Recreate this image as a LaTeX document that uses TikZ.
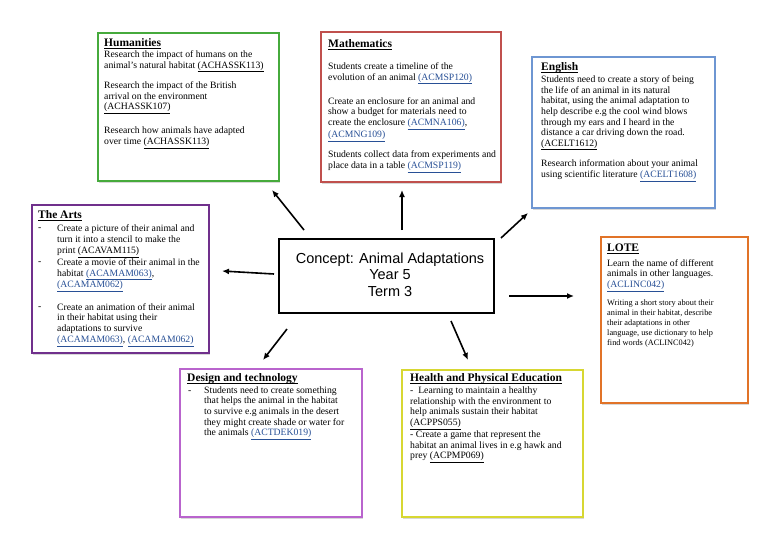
\documentclass[tikz,border=0pt]{standalone}
\usepackage{fontspec}
\setmainfont{Liberation Serif}
\newfontfamily\arialf{Liberation Sans}
\usetikzlibrary{shadows,arrows.meta}
\definecolor{humG}{RGB}{70,170,60}
\definecolor{mathR}{RGB}{192,80,77}
\definecolor{engB}{RGB}{110,150,210}
\definecolor{artsP}{RGB}{112,48,140}
\definecolor{loteO}{RGB}{225,115,40}
\definecolor{desP}{RGB}{185,100,205}
\definecolor{heaY}{RGB}{215,215,50}
\definecolor{linkblue}{RGB}{40,80,150}
\newcommand\lnkk[1]{\underline{#1}}
\newcommand\lnkb[1]{\textcolor{linkblue}{\underline{#1}}}
\newcommand\hul[1]{\setbox0\hbox{#1}\rlap{\rule[-2pt]{\wd0}{0.7pt}}\box0}
\tikzset{
  box/.style={draw=#1, line width=1.8pt, fill=white, anchor=north west, inner sep=0pt, outer sep=0pt,
    drop shadow={shadow xshift=1.2pt, shadow yshift=-1.6pt, opacity=0.3}},
  head/.style={anchor=north west, inner sep=0pt, align=left, text depth=0pt, font=\fontsize{11.5}{13}\selectfont\bfseries},
  body/.style={anchor=north west, inner sep=0pt, align=left, font=\fontsize{9.7}{#1}\selectfont},
  body/.default=10.7,
  bulletdash/.style={anchor=base west, inner sep=0pt, font=\fontsize{9.7}{10.7}\selectfont},
  arr/.style={-{Latex[length=7pt,width=6pt]}, line width=1.6pt},
}
\begin{document}
\begin{tikzpicture}[x=1pt,y=-1pt]
\useasboundingbox (0,0) rectangle (768,543);
\fill[white] (0,0) rectangle (768,543);

% boxes
\node[box=humG, minimum width=181pt, minimum height=148pt] (hum) at (98,33) {};
\node[box=mathR, minimum width=180pt, minimum height=150pt] (math) at (321,32) {};
\node[box=engB, minimum width=183pt, minimum height=151pt] (eng) at (532,57) {};
\node[box=artsP, minimum width=177pt, minimum height=148pt] (arts) at (32,205) {};
\node[box=loteO, minimum width=147pt, minimum height=166pt] (lote) at (601,237) {};
\node[box=desP, minimum width=182pt, minimum height=148pt] (des) at (180,369) {};
\node[box=heaY, minimum width=181pt, minimum height=147pt] (hea) at (402,370) {};
\node[draw=black, line width=1.5pt, fill=white, anchor=north west, inner sep=0pt,
  minimum width=215pt, minimum height=74pt] (concept) at (278,238) {};
\node[anchor=north, inner sep=0pt, align=center, font=\arialf\fontsize{14.5}{16.5}\selectfont]
  (conceptText) at (390,252.6) {Concept: Animal Adaptations\\Year 5\\Term 3};

% Humanities
\node[head] (humH) at (104,38.2) {\hul{Humanities}};
\node[body] (humA) at (104,50.3) {Research the impact of humans on the\\animal's natural habitat \lnkk{(ACHASSK113)}};
\node[body] (humB) at (104,81.3) {Research the impact of the British\\arrival on the environment\\\lnkk{(ACHASSK107)}};
\node[body] (humC) at (104,127) {Research how animals have adapted\\over time \lnkk{(ACHASSK113)}};

% Mathematics
\node[head] (mathH) at (328,39.2) {\hul{Mathematics}};
\node[body=10.8] (mathA) at (328,62.3) {Students create a timeline of the\\evolution of an animal \lnkb{(ACMSP120)}};
\node[body=10.6] (mathB) at (328,97.3) {Create an enclosure for an animal and\\show a budget for materials need to\\create the enclosure \lnkb{(ACMNA106)},\\\lnkb{(ACMNG109)}};
\node[body=11] (mathC) at (328,150.3) {Students collect data from experiments and\\place data in a table \lnkb{(ACMSP119)}};

% English
\node[head] (engH) at (541,62.5) {\hul{English}};
\node[body=10.55] (engA) at (541,75.8) {Students need to create a story of being\\the life of an animal in its natural\\habitat, using the animal adaptation to\\help describe e.g the cool wind blows\\through my ears and I heard in the\\distance a car driving down the road.\\\lnkk{(ACELT1612)}};
\node[body=10.7] (engB) at (541,159.6) {Research information about your animal\\using scientific literature \lnkb{(ACELT1608)}};

% The Arts
\node[head] (artsH) at (38,210.5) {\hul{The Arts}};
\node[bulletdash] (artsD1) at (38,230.7) {-};
\node[bulletdash] (artsD2) at (38,264.7) {-};
\node[bulletdash] (artsD3) at (38,309.7) {-};
\node[body=11.2] (artsA) at (57,224) {Create a picture of their animal and\\turn it into a stencil to make the\\print \lnkk{(ACAVAM115)}};
\node[body=11.2] (artsB) at (57,258) {Create a movie of their animal in the\\habitat \lnkb{(ACAMAM063)},\\\lnkb{(ACAMAM062)}};
\node[body=10.9] (artsC) at (57,303) {Create an animation of their animal\\in their habitat using their\\adaptations to survive\\\lnkb{(ACAMAM063)}, \lnkb{(ACAMAM062)}};

% LOTE
\node[head] (loteH) at (607,243.5) {\hul{LOTE}};
\node[body=10.8] (loteA) at (607,259) {Learn the name of different\\animals in other languages.\\\lnkb{(ACLINC042)}};
\node[anchor=north west, inner sep=0pt, align=left, font=\fontsize{8.3}{10}\selectfont]
  (loteB) at (607,299.5) {Writing a short story about their\\animal in their habitat, describe\\their adaptations in other\\language, use dictionary to help\\find words (ACLINC042)};

% Design and technology
\node[head] (desH) at (187,373.2) {\hul{Design and technology}};
\node[bulletdash] (desD) at (188,393) {-};
\node[body=10.67] (desA) at (204,386.3) {Students need to create something\\that helps the animal in the habitat\\to survive e.g animals in the desert\\they might create shade or water for\\the animals \lnkb{(ACTDEK019)}};

% Health and Physical Education
\node[head] (heaH) at (410,373.2) {\hul{Health and Physical Education}};
\node[body=10.67] (heaA) at (410,386.6) {-\ \ Learning to maintain a healthy\\relationship with the environment to\\help animals sustain their habitat\\\lnkk{(ACPPS055)}\\- Create a game that represent the\\habitat an animal lives in e.g hawk and\\prey \lnkk{(ACPMP069)}};

% arrows
\coordinate (hum1) at (304,230); \coordinate (hum2) at (272,190);
\coordinate (math1) at (402,230); \coordinate (math2) at (402,190);
\coordinate (eng1) at (501,238); \coordinate (eng2) at (528,213);
\coordinate (arts1) at (274,274); \coordinate (arts2) at (222,271);
\coordinate (lote1) at (509,296); \coordinate (lote2) at (574,296);
\coordinate (des1) at (287,329); \coordinate (des2) at (263,360);
\coordinate (hea1) at (451,321); \coordinate (hea2) at (468,360);
\draw[arr] (hum1) -- (hum2);
\draw[arr] (math1) -- (math2);
\draw[arr] (eng1) -- (eng2);
\draw[arr] (arts1) -- (arts2);
\draw[arr] (lote1) -- (lote2);
\draw[arr] (des1) -- (des2);
\draw[arr] (hea1) -- (hea2);
\end{tikzpicture}
\end{document}
